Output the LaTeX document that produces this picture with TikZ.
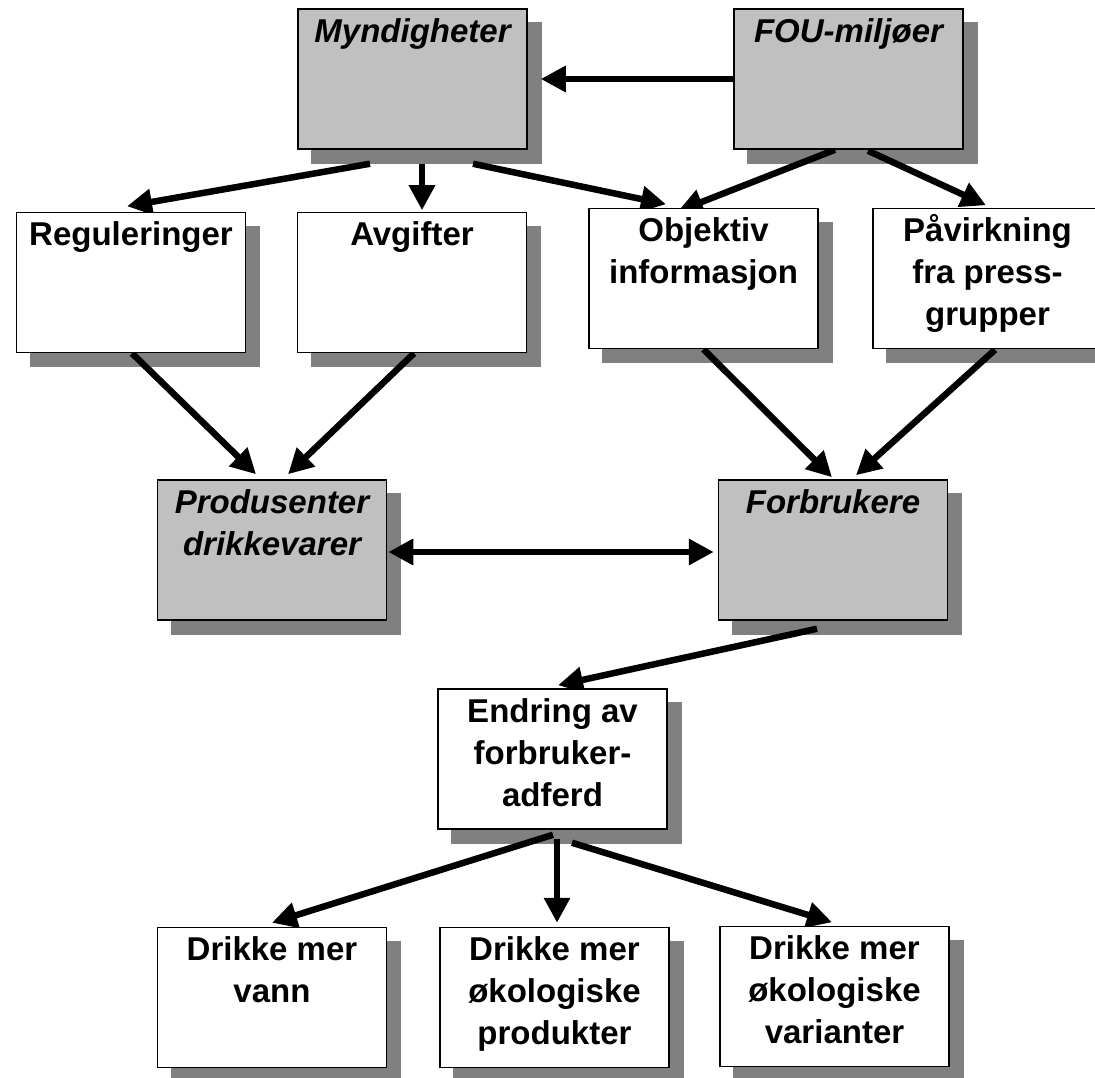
\documentclass[tikz,border=0pt]{standalone}
\usepackage{fontspec}
\setmainfont{Liberation Sans}
\usetikzlibrary{calc,arrows.meta}
\definecolor{boxgray}{RGB}{192,192,192}
\definecolor{shadowgray}{RGB}{128,128,128}
\pgfdeclarelayer{shadowlayer}
\pgfdeclarelayer{arrowlayer}
\pgfsetlayers{shadowlayer,arrowlayer,main}
\tikzset{
  boxbase/.style={draw=black, line width=1.5pt, minimum width=229pt, minimum height=140pt, inner sep=0pt},
  whitebox/.style={boxbase, fill=white},
  graybox/.style={boxbase, fill=boxgray},
  lbl/.style={anchor=north, inner sep=0pt, align=center, font=\fontsize{33}{42}\selectfont\bfseries},
  ilbl/.style={lbl, font=\fontsize{33}{42}\selectfont\bfseries\itshape},
  conn/.style={line width=6.5pt, -{Triangle[length=25pt,width=25pt]}},
  dconn/.style={line width=6.5pt, {Triangle[length=25pt,width=25pt]}-{Triangle[length=25pt,width=25pt]}},
}
\newcommand{\fr}{\rule{0pt}{30pt}}
\begin{document}
\begin{tikzpicture}[x=1pt,y=-1pt]
\useasboundingbox (0,0) rectangle (1095,1078);

% boxes
\node[graybox]  (myn)  at (412.5,79)    {};
\node[graybox]  (fou)  at (848.5,79)    {};
\node[whitebox] (reg)  at (131,282.5)   {};
\node[whitebox] (avg)  at (412,282.5)   {};
\node[whitebox] (obj)  at (703.5,278.5) {};
\node[whitebox] (pav)  at (987.5,278.5) {};
\node[graybox]  (pro)  at (272,550)     {};
\node[graybox]  (for)  at (833,550)     {};
\node[whitebox] (end)  at (552.5,759)   {};
\node[whitebox] (vann) at (272,997.5)   {};
\node[whitebox] (prod) at (554.5,997.5) {};
\node[whitebox] (var)  at (834.5,996.5) {};

% labels
\node[ilbl] (myn-t)  at ($(myn.north)+(0,4)$)  {\fr Myndigheter};
\node[ilbl] (fou-t)  at ($(fou.north)+(0,4)$)  {\fr FOU-miljøer};
\node[lbl]  (reg-t)  at ($(reg.north)+(0,4)$)  {\fr Reguleringer};
\node[lbl]  (avg-t)  at ($(avg.north)+(0,4)$)  {\fr Avgifter};
\node[lbl]  (obj-t)  at ($(obj.north)+(0,4)$)  {\fr Objektiv\\informasjon};
\node[lbl]  (pav-t)  at ($(pav.north)+(0,4)$)  {\fr Påvirkning\\fra press-\\grupper};
\node[ilbl] (pro-t)  at ($(pro.north)+(0,4)$)  {\fr Produsenter\\drikkevarer};
\node[ilbl] (for-t)  at ($(for.north)+(0,4)$)  {\fr Forbrukere};
\node[lbl]  (end-t)  at ($(end.north)+(0,4)$)  {\fr Endring av\\forbruker-\\adferd};
\node[lbl]  (vann-t) at ($(vann.north)+(0,4)$) {\fr Drikke mer\\vann};
\node[lbl]  (prod-t) at ($(prod.north)+(0,4)$) {\fr Drikke mer\\økologiske\\produkter};
\node[lbl]  (var-t)  at ($(var.north)+(0,4)$)  {\fr Drikke mer\\økologiske\\varianter};

% shadows
\begin{pgfonlayer}{shadowlayer}
\foreach \n in {myn,fou,reg,avg,obj,pav,pro,for,end,vann,prod,var}{
  \fill[shadowgray] ($(\n.north west)+(14,14)$) rectangle ($(\n.south east)+(14,14)$);
}
\end{pgfonlayer}

% connectors
\begin{pgfonlayer}{arrowlayer}
\draw[conn] (fou.west) -- ($(myn.east)+(13,0)$);
\draw[conn] ($(myn.south)+(-42.5,14)$) -- ($(reg.north)+(-4,-5.5)$);
\draw[conn] ($(myn.south)+(9.5,14)$) -- ($(avg.north)+(10,-1.5)$);
\draw[conn] ($(myn.south)+(60.5,14)$) -- ($(obj.north)+(-37.5,-3.5)$);
\draw[conn] ($(fou.south)+(-13.5,0)$) -- ($(obj.north)+(-25.5,3.5)$);
\draw[conn] ($(fou.south)+(19.5,1)$) -- ($(pav.north)+(-1.5,-2.5)$);
\draw[conn] ($(reg.south)+(1,0)$) -- ($(pro.north)+(-16,-5)$);
\draw[conn] ($(avg.south)+(2,0)$) -- ($(pro.north)+(16,-5)$);
\draw[conn] ($(obj.south)+(0,0)$) -- ($(for.north)+(-1,-2)$);
\draw[conn] ($(pav.south)+(7.5,0.5)$) -- ($(for.north)+(23,-4)$);
\draw[dconn] ($(pro.east)+(1,2)$) -- ($(for.west)+(-4,2)$);
\draw[conn] ($(for.south)+(-16,8)$) -- ($(end.north)+(5.5,-3)$);
\draw[conn] ($(end.south)+(0.5,5)$) -- ($(vann.north)+(0,-4)$);
\draw[conn] ($(end.south)+(4.5,9)$) -- ($(prod.north)+(2.5,-4)$);
\draw[conn] ($(end.south)+(19.5,13)$) -- ($(var.north)+(-2.5,-3.5)$);
\end{pgfonlayer}
\end{tikzpicture}
\end{document}
